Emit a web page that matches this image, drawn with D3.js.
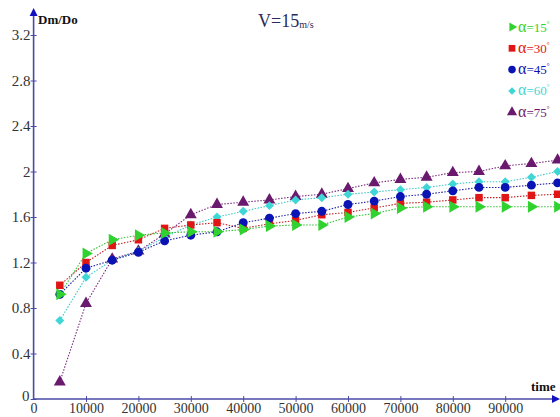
<!DOCTYPE html>
<html><head><meta charset="utf-8">
<script src="https://cdn.jsdelivr.net/npm/d3@7"></script>
<style>body{margin:0;background:#fff}svg{display:block}</style>
</head><body>
<svg id="c" width="560" height="417"></svg>
<script>
const times = [5000,10000,15000,20000,25000,30000,35000,40000,45000,50000,55000,60000,65000,70000,75000,80000,85000,90000,95000,100000];
const a15 = [0.92,1.28,1.40,1.44,1.46,1.47,1.47,1.49,1.52,1.53,1.53,1.60,1.63,1.68,1.69,1.69,1.69,1.69,1.69,1.69];
const a30 = [1.00,1.20,1.35,1.40,1.50,1.53,1.55,1.50,1.54,1.57,1.62,1.64,1.68,1.72,1.73,1.75,1.77,1.77,1.79,1.80];
const a45 = [0.92,1.15,1.22,1.29,1.39,1.44,1.47,1.55,1.59,1.63,1.65,1.71,1.74,1.78,1.80,1.83,1.86,1.86,1.88,1.90];
const a60 = [0.69,1.07,1.22,1.30,1.42,1.53,1.60,1.65,1.70,1.75,1.77,1.80,1.82,1.84,1.86,1.89,1.91,1.91,1.95,2.00];
const a75 = [0.15,0.84,1.23,1.30,1.45,1.62,1.71,1.73,1.75,1.78,1.80,1.85,1.90,1.93,1.95,1.99,2.00,2.05,2.07,2.10];
const xTicks = [0,10000,20000,30000,40000,50000,60000,70000,80000,90000];
const yTicks = [0,0.4,0.8,1.2,1.6,2,2.4,2.8,3.2];
const legendLabels = ["15","30","45","60","75"];

const series = [
  {key:"75", vals:a75, color:"#6a1a6e", line:"#7a2a7e", sym:d3.symbolTriangle, size:62, rot:0},
  {key:"60", vals:a60, color:"#3fd6d6", line:"#40c8c8", sym:d3.symbolSquare, size:40, rot:45},
  {key:"30", vals:a30, color:"#e01515", line:"#c02020", sym:d3.symbolSquare, size:56, rot:0},
  {key:"45", vals:a45, color:"#0a14b4", line:"#2020a0", sym:d3.symbolCircle, size:62, rot:0},
  {key:"15", vals:a15, color:"#2fd22f", line:"#30c030", sym:d3.symbolTriangle, size:62, rot:90}
];

const svg = d3.select("#c");
const x = d3.scaleLinear().domain([0,100000]).range([33.6,557.6]);
const y = d3.scaleLinear().domain([0,3.2]).range([399,35]);
const axisColor = "#4a4aa8";
const serif = "'Liberation Serif','Times New Roman',serif";

// axes lines
svg.append("line").attr("x1",x(0)).attr("x2",x(0)).attr("y1",y(0)).attr("y2",14)
  .attr("stroke",axisColor).attr("stroke-width",1.6);
svg.append("line").attr("x1",x(0)).attr("x2",553).attr("y1",y(0)).attr("y2",y(0))
  .attr("stroke",axisColor).attr("stroke-width",1.6);
svg.append("path").attr("d",`M${x(0)-4},16 L${x(0)},8 L${x(0)+4},16 Z`).attr("fill","#1010c0");
svg.append("path").attr("d",`M552,${y(0)-4} L560,${y(0)} L552,${y(0)+4} Z`).attr("fill","#1010c0");

// ticks via d3 axes
const yAxis = svg.append("g").attr("transform",`translate(${x(0)},0)`)
  .call(d3.axisLeft(y).tickValues(yTicks).tickSize(3).tickPadding(2).tickFormat(d=>d===0?"0":String(d)));
yAxis.select(".domain").remove();
yAxis.selectAll(".tick line").attr("x1",3).attr("x2",-3).attr("stroke",axisColor);
yAxis.selectAll("text").attr("font-family",serif).attr("font-size",15).attr("fill","#333")
  .attr("x",-3).attr("dy","0.32em");
yAxis.selectAll(".tick").filter(d=>d===0).select("text").attr("dy","0.1em").attr("x",-4);

const xAxis = svg.append("g").attr("transform",`translate(0,${y(0)})`)
  .call(d3.axisBottom(x).tickValues(xTicks).tickSize(3).tickFormat(d=>String(d)));
xAxis.select(".domain").remove();
xAxis.selectAll(".tick line").attr("y1",-3).attr("y2",3).attr("stroke",axisColor);
xAxis.selectAll(".tick").filter(d=>d===0).select("line").remove();
xAxis.selectAll("text").attr("font-family",serif).attr("font-size",14).attr("fill","#333")
  .attr("y",14).attr("dy","0");

// axis titles
svg.append("text").attr("x",38).attr("y",24).attr("font-family",serif).attr("font-weight","bold")
  .attr("font-size",13).attr("fill","#111").text("Dm/Do");
svg.append("text").attr("x",531).attr("y",391).attr("font-family",serif).attr("font-weight","bold")
  .attr("font-size",13).attr("fill","#111").text("time");

// title
const t = svg.append("text").attr("x",258).attr("y",27).attr("font-family",serif).attr("font-size",18).attr("fill","#2a2a5a");
t.append("tspan").text("V=15");
t.append("tspan").attr("font-size",10).attr("dy",1).text("m/s");

// lines and markers
const line = d3.line().x((d,i)=>x(times[i])).y(d=>y(d));
series.forEach(s=>{
  svg.append("path").datum(s.vals).attr("d",line).attr("fill","none")
    .attr("stroke",s.line).attr("stroke-width",1.1).attr("stroke-dasharray","1.5,1.5");
});
series.forEach(s=>{
  const sym = d3.symbol().type(s.sym).size(s.size);
  svg.append("g").selectAll("path").data(s.vals).join("path")
    .attr("d",sym)
    .attr("transform",(d,i)=>`translate(${x(times[i])},${y(d)}) rotate(${s.rot})`)
    .attr("fill",s.color);
});

// legend
const legOrder = ["15","30","45","60","75"];
legOrder.forEach((k,i)=>{
  const s = series.find(z=>z.key===k);
  const ly = 27 + i*21.3;
  const ss = k==="15"?36:(k==="60"?28:45);
  svg.append("path").attr("d",d3.symbol().type(s.sym).size(ss)())
    .attr("transform",`translate(512,${ly}) rotate(${s.rot})`).attr("fill",s.color);
  const lt = svg.append("text").attr("x",518).attr("y",ly+4.5).attr("font-family",serif)
    .attr("font-size",13).attr("fill",s.color);
  lt.append("tspan").attr("font-size",16).text("α");
  lt.append("tspan").text("="+legendLabels[i]);
  lt.append("tspan").attr("font-size",7).attr("dy",-6).text("°");
});
</script>
</body></html>
